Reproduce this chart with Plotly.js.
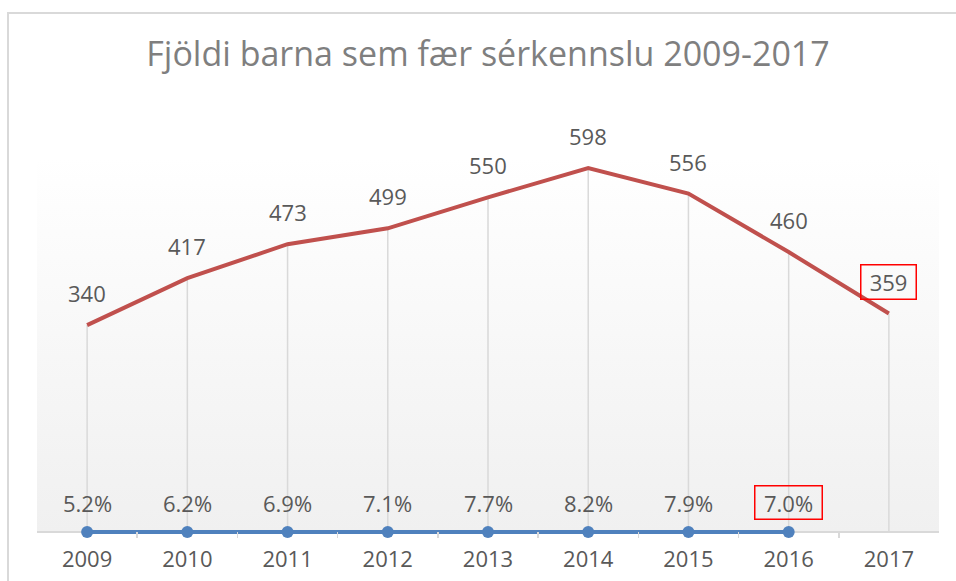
<!DOCTYPE html>
<html>
<head>
<meta charset="utf-8">
<script src="https://cdn.plot.ly/plotly-3.0.1.min.js"></script>
<style>
  html, body { margin: 0; padding: 0; background: #ffffff; }
  #wrap { position: relative; width: 956px; height: 581px; overflow: hidden; }
  #chart { position: absolute; left: 0; top: 0; width: 956px; height: 581px; }
  #frame { position: absolute; left: 7px; top: 12px; width: 960px; height: 580px;
           border-left: 2px solid #d9d9d9; border-top: 2px solid #d9d9d9; pointer-events: none; }
</style>
</head>
<body>
<div id="wrap">
  <div id="chart"></div>
  <div id="frame"></div>
</div>
<script>
// ---- data ----
const years = ["2009", "2010", "2011", "2012", "2013", "2014", "2015", "2016", "2017"];
const children = [340, 417, 473, 499, 550, 598, 556, 460, 359];
const shareYears = ["2009", "2010", "2011", "2012", "2013", "2014", "2015", "2016"];
const sharePct = [5.2, 6.2, 6.9, 7.1, 7.7, 8.2, 7.9, 7.0];
const titleText = "Fjöldi barna sem fær sérkennslu 2009-2017";

// ---- styles ----
const FONT = "Open Sans";
const RED = "#c0504d";
const BLUE = "#4f81bd";
const GRID = "#d9d9d9";
const TXT = "#595959";

const W = 956, H = 581;
const M = { l: 37, r: 17, t: 106, b: 43 };
const TICK = 6;                      // tick length below the zero line
const YMAX = 700;
const plotH = H - M.t - M.b;
const YMIN = -YMAX * TICK / (plotH - TICK);

// drop lines built from the data
const dropX = [], dropY = [];
years.forEach((y, i) => { dropX.push(y, y, null); dropY.push(0, children[i], null); });

const shareFrac = sharePct.map(v => v / 100);

const traces = [
  { x: dropX, y: dropY, type: "scatter", mode: "lines", hoverinfo: "skip",
    line: { color: GRID, width: 1.5 }, showlegend: false },
  { x: years, y: children, type: "scatter", mode: "lines",
    line: { color: RED, width: 4 }, showlegend: false, cliponaxis: false },
  { x: shareYears, y: shareFrac, type: "scatter", mode: "lines+markers",
    line: { color: BLUE, width: 4 }, marker: { color: BLUE, size: 12 },
    showlegend: false, cliponaxis: false }
];

const annotations = [];
children.forEach((v, i) => {
  const boxed = i === children.length - 1;
  const a = { x: i, y: v, xref: "x", yref: "y", text: String(v), showarrow: false,
    xanchor: "center", yanchor: "middle", yshift: 32, font: { family: FONT, size: 22, color: TXT } };
  if (boxed) { Object.assign(a, { bordercolor: "#ff0000", borderwidth: 1.5, borderpad: 0, width: 54, height: 33 }); }
  annotations.push(a);
});
sharePct.forEach((v, i) => {
  const boxed = i === sharePct.length - 1;
  const a = { x: i, y: shareFrac[i], xref: "x", yref: "y", text: v.toFixed(1) + "%", showarrow: false,
    xanchor: "center", yanchor: "middle", yshift: 29, font: { family: FONT, size: 22, color: TXT } };
  if (boxed) { Object.assign(a, { bordercolor: "#ff0000", borderwidth: 1.5, borderpad: 0, width: 66, height: 32 }); }
  annotations.push(a);
});

const gradSvg = '<svg xmlns="http://www.w3.org/2000/svg" width="100" height="100" preserveAspectRatio="none">' +
  '<defs><linearGradient id="g" x1="0" y1="0" x2="0" y2="1">' +
  '<stop offset="0" stop-color="#ffffff"/><stop offset="0.12" stop-color="#ffffff"/>' +
  '<stop offset="1" stop-color="#f0f0f0"/></linearGradient></defs>' +
  '<rect width="100" height="100" fill="url(#g)"/></svg>';

const layout = {
  width: W, height: H,
  margin: M,
  paper_bgcolor: "rgba(0,0,0,0)",
  plot_bgcolor: "rgba(0,0,0,0)",
  title: { text: titleText, x: 0.5, xref: "paper", xanchor: "center",
           y: 1 - 54 / H, yref: "container", yanchor: "middle",
           font: { family: FONT, size: 34, color: "#7f7f7f" } },
  xaxis: { type: "category", range: [-0.5, 8.5], tickson: "boundaries",
           ticks: "inside", ticklen: TICK, tickwidth: 1.5, tickcolor: GRID,
           showline: false, showgrid: false, zeroline: false, fixedrange: true,
           ticklabelstandoff: 6,
           tickfont: { family: FONT, size: 22, color: TXT } },
  yaxis: { range: [YMIN, YMAX], showticklabels: false, ticks: "", showgrid: false,
           zeroline: true, zerolinecolor: GRID, zerolinewidth: 1.5, fixedrange: true },
  images: [{ source: "data:image/svg+xml;charset=utf-8," + encodeURIComponent(gradSvg),
             xref: "paper", yref: "y", x: 0, y: YMAX, sizex: 1, sizey: YMAX,
             sizing: "stretch", xanchor: "left", yanchor: "top", layer: "below" }],
  annotations: annotations
};

Plotly.newPlot("chart", traces, layout, { displayModeBar: false, staticPlot: true });
</script>
</body>
</html>
